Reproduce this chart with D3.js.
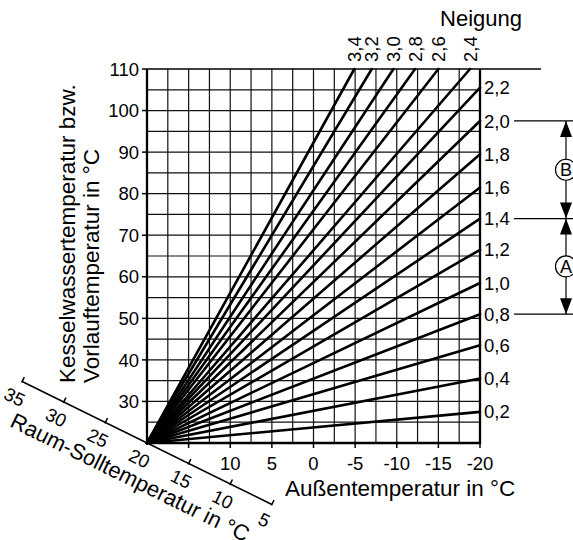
<!DOCTYPE html>
<html lang="de">
<head>
    <title>Heizkennlinien</title>
    <meta charset="utf-8">
    <script src="https://d3js.org/d3.v7.min.js"></script>
<style>
body { margin: 0; background: #fff; }
svg text { font-family: "Liberation Sans", Arial, sans-serif; fill: #000; }
</style>
</head>
<body>
<div id="chart"></div>
<script>
// curves that end on the right edge (flow temperature at -20 °C outside)
var flatLabels = ["0,2", "0,4", "0,6", "0,8", "1,0", "1,2", "1,4", "1,6", "1,8", "2,0", "2,2"];
var flatEndFlow = [27.5, 35.5, 43.5, 51, 58.5, 66.5, 74, 81.5, 89.5, 97.5, 105.5];

// curves that leave through the top (outside temperature where flow reaches 110 °C)
var steepLabels = ["2,4", "2,6", "2,8", "3,0", "3,2", "3,4"];
var steepEndOutside = [-18.8, -15.0, -12.2, -9.6, -7.0, -4.9];

// tick labels
var yTicks = [30, 40, 50, 60, 70, 80, 90, 100, 110];
var xTicks = [15, 10, 5, 0, -5, -10, -15, -20];
var xTickLabels = ["", "10", "5", "0", "-5", "-10", "-15", "-20"];
var roomTicks = [35, 30, 25, 20, 15, 10, 5];

// range markers on the right
var rangeLevels = ["2,0", "1,4", "0,8"];
var rangeNames = ["B", "A"];

var W = 573, H = 540;
var svg = d3.select("#chart")
  .append("svg")
  .attr("width", W)
  .attr("height", H);

var x = d3.scaleLinear().domain([20, -20]).range([147, 480]);
var y = d3.scaleLinear().domain([20, 110]).range([443, 69]);

// grid
var grid = svg.append("g").attr("stroke", "#111").attr("stroke-width", 1.2);
grid.selectAll("line.v")
  .data(d3.range(20, -20.1, -2.5))
  .enter().append("line")
    .attr("x1", function(d) { return x(d); })
    .attr("x2", function(d) { return x(d); })
    .attr("y1", y(20))
    .attr("y2", y(110));
grid.selectAll("line.h")
  .data(d3.range(25, 110, 5))
  .enter().append("line")
    .attr("x1", x(20))
    .attr("x2", x(-20))
    .attr("y1", function(d) { return y(d); })
    .attr("y2", function(d) { return y(d); });

// top line, runs out to the right
svg.append("line")
  .attr("x1", x(20)).attr("x2", 541)
  .attr("y1", y(110)).attr("y2", y(110))
  .attr("stroke", "#000").attr("stroke-width", 1.4);

// frame: left, bottom, right
svg.append("path")
  .attr("d", "M" + x(20) + "," + y(110) + "V" + y(20) + "H" + x(-20) + "V" + y(110))
  .attr("fill", "none").attr("stroke", "#000").attr("stroke-width", 2.3);

// y axis ticks and labels
svg.selectAll("line.yt")
  .data(yTicks)
  .enter().append("line")
    .attr("x1", x(20) - 5).attr("x2", x(20))
    .attr("y1", function(d) { return y(d); })
    .attr("y2", function(d) { return y(d); })
    .attr("stroke", "#000").attr("stroke-width", 1.5);
svg.selectAll("text.yt")
  .data(yTicks)
  .enter().append("text")
    .attr("x", x(20) - 8)
    .attr("y", function(d) { return y(d); })
    .attr("dy", "0.36em")
    .attr("text-anchor", "end")
    .style("font-size", "18.5px")
    .text(function(d) { return d; });

// x axis ticks and labels
svg.selectAll("line.xt")
  .data(xTicks)
  .enter().append("line")
    .attr("x1", function(d) { return x(d); })
    .attr("x2", function(d) { return x(d); })
    .attr("y1", y(20)).attr("y2", y(20) + 5)
    .attr("stroke", "#000").attr("stroke-width", 1.5);
svg.selectAll("text.xt")
  .data(xTicks)
  .enter().append("text")
    .attr("x", function(d) { return x(d); })
    .attr("y", 470)
    .attr("text-anchor", "middle")
    .style("font-size", "18.5px")
    .text(function(d, i) { return xTickLabels[i]; });

svg.append("text")
  .attr("x", 285).attr("y", 496)
  .style("font-size", "22.5px")
  .text("Außentemperatur in °C");

// y axis title, two lines
var yTitle = svg.append("text")
  .attr("transform", "translate(75,383) rotate(-90)")
  .style("font-size", "22.5px");
yTitle.append("tspan").attr("x", 0).attr("y", 0).text("Kesselwassertemperatur bzw.");
yTitle.append("tspan").attr("x", 0).attr("y", 24).text("Vorlauftemperatur in °C");

// heating curves, all start at 20 °C / 20 °C
var curves = svg.append("g")
  .attr("stroke", "#000").attr("stroke-width", 2.6).attr("stroke-linecap", "round");
curves.selectAll("line.flat")
  .data(flatEndFlow)
  .enter().append("line")
    .attr("x1", x(20)).attr("y1", y(20))
    .attr("x2", x(-20))
    .attr("y2", function(d) { return y(d); });
curves.selectAll("line.steep")
  .data(steepEndOutside)
  .enter().append("line")
    .attr("x1", x(20)).attr("y1", y(20))
    .attr("x2", function(d) { return x(d); })
    .attr("y2", y(110));

// curve labels on the right
svg.selectAll("text.flat")
  .data(flatEndFlow)
  .enter().append("text")
    .attr("x", x(-20) + 4)
    .attr("y", function(d) { return y(d); })
    .attr("dy", "0.36em")
    .style("font-size", "18.5px")
    .text(function(d, i) { return flatLabels[i]; });

// curve labels on top, rotated
svg.selectAll("text.steep")
  .data(steepEndOutside)
  .enter().append("text")
    .attr("transform", function(d) { return "translate(" + x(d) + "," + (y(110) - 7) + ") rotate(-90)"; })
    .attr("dy", "0.36em")
    .style("font-size", "18.5px")
    .text(function(d, i) { return steepLabels[i]; });

svg.append("text")
  .attr("x", 481).attr("y", 26)
  .attr("text-anchor", "middle")
  .style("font-size", "22px")
  .text("Neigung");

// range markers A and B
var levelY = rangeLevels.map(function(lbl) {
  return y(flatEndFlow[flatLabels.indexOf(lbl)]);
});
svg.selectAll("line.lvl")
  .data(levelY)
  .enter().append("line")
    .attr("x1", 514).attr("x2", W)
    .attr("y1", function(d) { return d; })
    .attr("y2", function(d) { return d; })
    .attr("stroke", "#000").attr("stroke-width", 1.2);

var ax = 566;
var arrowHead = function(tipY, dir) {
  // dir = -1 points up, +1 points down
  var len = 16, hw = 6;
  return "M" + ax + "," + tipY + "L" + (ax - hw) + "," + (tipY - dir * len) +
         "L" + (ax + hw) + "," + (tipY - dir * len) + "Z";
};
rangeNames.forEach(function(name, i) {
  var y0 = levelY[i], y1 = levelY[i + 1], cy = (y0 + y1) / 2;
  svg.append("line")
    .attr("x1", ax).attr("x2", ax).attr("y1", y0).attr("y2", y1)
    .attr("stroke", "#000").attr("stroke-width", 1.2);
  svg.append("path").attr("d", arrowHead(y0, -1)).attr("fill", "#000");
  svg.append("path").attr("d", arrowHead(y1, 1)).attr("fill", "#000");
  svg.append("circle")
    .attr("cx", ax).attr("cy", cy).attr("r", 10.5)
    .attr("fill", "#fff").attr("stroke", "#000").attr("stroke-width", 1.2);
  svg.append("text")
    .attr("x", ax).attr("y", cy).attr("dy", "0.36em")
    .attr("text-anchor", "middle")
    .style("font-size", "18px")
    .text(name);
});

// room set temperature scale, slanted below the pivot
var ang = 26.2, rad = ang * Math.PI / 180;
var roomPt = function(t) {
  var px = x(t);
  return [px, y(20) + (px - x(20)) * Math.tan(rad)];
};
var r0 = roomPt(35), r1 = roomPt(5);
svg.append("line")
  .attr("x1", r0[0]).attr("y1", r0[1]).attr("x2", r1[0]).attr("y2", r1[1])
  .attr("stroke", "#000").attr("stroke-width", 1.6);
var room = svg.selectAll("g.room")
  .data(roomTicks)
  .enter().append("g")
    .attr("transform", function(d) { var p = roomPt(d); return "translate(" + p[0] + "," + p[1] + ") rotate(" + ang + ")"; });
room.append("line")
  .attr("x1", 0).attr("x2", 0).attr("y1", -5).attr("y2", 1)
  .attr("stroke", "#000").attr("stroke-width", 1.5);
room.append("text")
  .attr("y", 17).attr("dy", "0.36em")
  .attr("text-anchor", "middle")
  .style("font-size", "18.5px")
  .text(function(d) { return d; });

svg.append("text")
  .attr("transform", "translate(" + x(20) + "," + y(20) + ") rotate(" + ang + ")")
  .attr("x", 0).attr("y", 38).attr("dy", "0.36em")
  .attr("text-anchor", "middle")
  .style("font-size", "22px")
  .text("Raum-Solltemperatur in °C");
</script>
</body>
</html>
